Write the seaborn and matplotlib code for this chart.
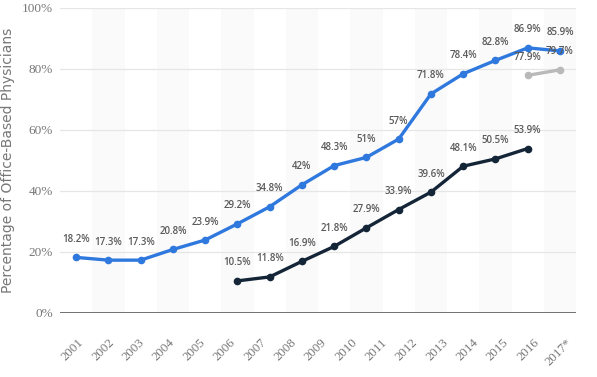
import numpy as np
import pandas as pd
import matplotlib
matplotlib.use("Agg")
import matplotlib.pyplot as plt
import seaborn as sns

sns.set_style("white")

# 数据
years = ['2001', '2002', '2003', '2004', '2005', '2006', '2007', '2008',
         '2009', '2010', '2011', '2012', '2013', '2014', '2015', '2016']
tick_labels = years + ['2017*']
any_ehr = [18.2, 17.3, 17.3, 20.8, 23.9, 29.2, 34.8, 42, 48.3, 51, 57,
           71.8, 78.4, 82.8, 86.9, 85.9]
basic_years = ['2006', '2007', '2008', '2009', '2010', '2011', '2012',
               '2013', '2014', '2015']
basic_ehr = [10.5, 11.8, 16.9, 21.8, 27.9, 33.9, 39.6, 48.1, 50.5, 53.9]
cert_years = ['2015', '2016']
cert_ehr = [77.9, 79.7]

pos = {y: i for i, y in enumerate(years)}
df_any = pd.DataFrame({'x': [pos[y] for y in years], 'v': any_ehr})
df_basic = pd.DataFrame({'x': [pos[y] for y in basic_years], 'v': basic_ehr})
df_cert = pd.DataFrame({'x': [pos[y] for y in cert_years], 'v': cert_ehr})

fig = plt.figure(figsize=(5.97, 3.77), dpi=100)
ax = fig.add_axes([0.1005, 0.170, 0.8645, 0.809])

# 背景条纹
for i in range(1, len(years), 2):
    ax.axvspan(i - 0.5, i + 0.5, color='#fafafa', lw=0, zorder=0)
for g in [20, 40, 60, 80, 100]:
    ax.axhline(g, color='#e6e6e6', lw=0.9, zorder=1)
ax.axhline(0, color='#666666', lw=1.3, zorder=2)

series = [(df_any, '#2f78dd'), (df_basic, '#142538'), (df_cert, '#b9b9b9')]
for d, c in series:
    sns.lineplot(data=d, x='x', y='v', ax=ax, color=c, lw=2.4,
                 marker='o', markersize=5.5, markeredgewidth=0, zorder=3)
    for xx, vv in zip(d['x'], d['v']):
        ax.annotate(f"{vv:g}%", (xx, vv), xytext=(0, 9), textcoords='offset points',
                    ha='center', va='bottom', fontsize=7, fontweight='semibold',
                    family='Open Sans', color='#5a5a5a', zorder=5)

ax.set_xlim(-0.5, len(years) - 0.5)
ax.set_ylim(0, 100)
ax.set_yticks([0, 20, 40, 60, 80, 100])
ax.set_yticklabels([f"{t}%" for t in [0, 20, 40, 60, 80, 100]],
                   family='Liberation Serif', fontsize=9.5, color='#777777')
ax.set_xticks(np.arange(len(tick_labels)) * 0.941 - 0.1)
ax.set_xticklabels(tick_labels, rotation=45, family='Liberation Serif',
                   fontsize=9.3, color='#777777')
ax.tick_params(axis='both', length=0)
ax.tick_params(axis='y', pad=5)
ax.tick_params(axis='x', pad=17)
ax.set_xlabel('')
ax.set_ylabel('Percentage of Office-Based Physicians', fontsize=10,
              color='#777777', labelpad=5)
for s in ax.spines.values():
    s.set_visible(False)

fig.savefig('out.png', dpi=100)
